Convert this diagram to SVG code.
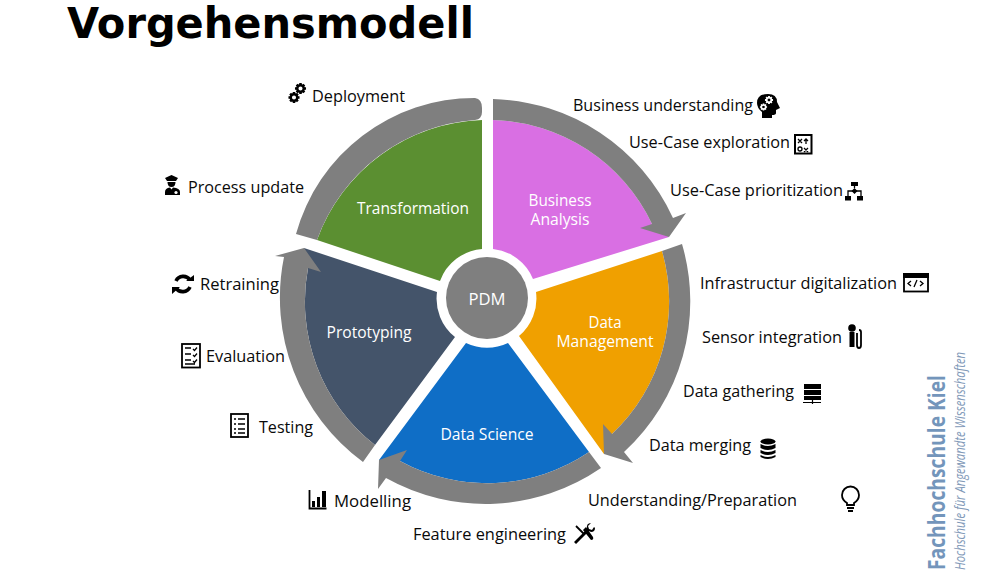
<svg xmlns="http://www.w3.org/2000/svg" width="1000" height="575" viewBox="0 0 1000 575">
<style>
.lbl{font-family:"Open Sans","Noto Sans",sans-serif;font-size:17px;fill:#0a0a0a}
.wl{font-family:"Open Sans","Noto Sans",sans-serif;font-size:16px;fill:#fff;text-anchor:middle}
.band{fill:#7f7f7f}
.o{fill:none;stroke:#000}
.k{fill:#000}
.w{fill:#fff}
</style>
<defs>
<path id="gear-teeth" d="M-1.500-6.500H1.500V-3H-1.500ZM-1.500 3H1.500V6.500H-1.500ZM-6.500-1.500H-3V1.500H-6.500ZM3-1.500H6.500V1.500H3ZM-5.600-3.500L-3.500-5.600-1.500-3.500-3.500-1.500ZM3.500 5.600L5.600 3.500 3.500 1.500 1.500 3.500ZM3.500-5.600L5.600-3.500 3.500-1.500 1.500-3.500ZM-5.600 3.500L-3.500 5.600-1.500 3.500-3.500 1.500Z"/>
<g id="gear"><use href="#gear-teeth"/><circle r="3.800" fill="none" stroke="#000" stroke-width="2.800"/></g>
<g id="gear-w" fill="#fff"><use href="#gear-teeth"/><circle r="3.800" fill="none" stroke="#fff" stroke-width="2.800"/></g>
</defs>
<rect width="1000" height="575" fill="#fff"/>
<text id="title" x="67" y="38" font-family="'DejaVu Sans',sans-serif" font-weight="700" font-size="42" fill="#000" textLength="407" lengthAdjust="spacingAndGlyphs">Vorgehensmodell</text>

<g id="business-analysis">
<path fill="#d96fe3" d="M493 120A182 182 0 0 1 652 224L669 237L533 279A49 49 0 0 0 493 249Z"/>
<text class="wl" x="560" y="206" textLength="63" lengthAdjust="spacingAndGlyphs">Business</text><text class="wl" x="560" y="225" textLength="59" lengthAdjust="spacingAndGlyphs">Analysis</text>
</g>
<g id="data-management">
<path fill="#f0a000" d="M536 292L662 251A182 182 0 0 1 612 434L604 454L519 336A49 49 0 0 0 536 292Z"/>
<text class="wl" x="605" y="328" textLength="33" lengthAdjust="spacingAndGlyphs">Data</text><text class="wl" x="605" y="347" textLength="97" lengthAdjust="spacingAndGlyphs">Management</text>
</g>
<g id="data-science">
<path fill="#0f6ec6" d="M508 343L589 452A182 182 0 0 1 400 461L379 460L466 343A49 49 0 0 0 508 343Z"/>
<text class="wl" x="487" y="440" textLength="93" lengthAdjust="spacingAndGlyphs">Data Science</text>
</g>
<g id="prototyping">
<path fill="#44546a" d="M455 337L375 445A182 182 0 0 1 308 268L304 248L437 292A49 49 0 0 0 455 337Z"/>
<text class="wl" x="369" y="338" textLength="85" lengthAdjust="spacingAndGlyphs">Prototyping</text>
</g>
<g id="transformation">
<path fill="#5b8f31" d="M317 240L440 281A49 49 0 0 1 482 249L482 120A182 182 0 0 0 317 240Z"/>
<text class="wl" x="413" y="214" textLength="112" lengthAdjust="spacingAndGlyphs">Transformation</text>
</g>
<g id="pdm">
<circle cx="487" cy="298" r="41" fill="#7f7f7f"/>
<text class="wl" x="487" y="305" textLength="37" lengthAdjust="spacingAndGlyphs">PDM</text>
</g>

<g id="connectors">
<path class="band" d="M493 99A204 204 0 0 1 673 218L686 213L669 237L640 228L652 224A182 182 0 0 0 493 120Z"/>
<path class="band" d="M682 244A204 204 0 0 1 624 452L633 463L604 454L603 424L612 434A182 182 0 0 0 662 251Z"/>
<path class="band" d="M601 468A204 204 0 0 1 386 478L378 489L379 460L407 450L400 461A182 182 0 0 0 589 452Z"/>
<path class="band" d="M363 462A204 204 0 0 1 284 257L275 256L304 248L321 272L308 268A182 182 0 0 0 375 445Z"/>
<path class="band" d="M296 234A185 185 0 0 1 475 98Q482 99 482 108L482 112Q482 119 475 120A182 182 0 0 0 317 240Z"/>
</g>

<g id="labels">
<text class="lbl" x="312" y="102" textLength="93" lengthAdjust="spacingAndGlyphs">Deployment</text>
<text class="lbl" x="573" y="111" textLength="180" lengthAdjust="spacingAndGlyphs">Business understanding</text>
<text class="lbl" x="629" y="148" textLength="161" lengthAdjust="spacingAndGlyphs">Use-Case exploration</text>
<text class="lbl" x="670" y="196" textLength="173" lengthAdjust="spacingAndGlyphs">Use-Case prioritization</text>
<text class="lbl" x="700" y="289" textLength="197" lengthAdjust="spacingAndGlyphs">Infrastructur digitalization</text>
<text class="lbl" x="702" y="343" textLength="140" lengthAdjust="spacingAndGlyphs">Sensor integration</text>
<text class="lbl" x="683" y="397" textLength="111" lengthAdjust="spacingAndGlyphs">Data gathering</text>
<text class="lbl" x="649" y="451" textLength="102" lengthAdjust="spacingAndGlyphs">Data merging</text>
<text class="lbl" x="588" y="506" textLength="209" lengthAdjust="spacingAndGlyphs">Understanding/Preparation</text>
<text class="lbl" x="413" y="540" textLength="153" lengthAdjust="spacingAndGlyphs">Feature engineering</text>
<text class="lbl" x="334" y="507" textLength="77" lengthAdjust="spacingAndGlyphs">Modelling</text>
<text class="lbl" x="259" y="433" textLength="54" lengthAdjust="spacingAndGlyphs">Testing</text>
<text class="lbl" x="206" y="362" textLength="79" lengthAdjust="spacingAndGlyphs">Evaluation</text>
<text class="lbl" x="200" y="290" textLength="79" lengthAdjust="spacingAndGlyphs">Retraining</text>
<text class="lbl" x="188" y="193" textLength="116" lengthAdjust="spacingAndGlyphs">Process update</text>
</g>

<g stroke-width="1.800">
<g id="icon-head"><path class="k" d="M762 118V112Q757 108 757 103Q757 94 768 94Q777 94 777 102L780 108L776 110V113Q776 115 772 115V118Z"/><use href="#gear-w" transform="translate(769 100) scale(.62)"/><use href="#gear-w" transform="translate(763.500 107) scale(.55)"/></g>
<g id="icon-map"><rect x="795" y="135" width="16.500" height="18.500" class="o" stroke-width="2"/><path class="o" stroke-width="1.300" d="M798 139l4 4m0-4l-4 4M804 148l4 4m0-4l-4 4M806 144v-5m-2 2l2-2 2 2"/><circle cx="800" cy="149" r="2" class="o" stroke-width="1.300"/></g>
<g id="icon-flow"><path class="k" d="M851 182h7v4h-7ZM845 196h6v4.500h-6ZM857 196h6v4.500h-6ZM854.500 188l3 3-3 3-3-3Z"/><path class="o" stroke-width="1.300" d="M854.500 186v2M848 196v-5h13v5"/></g>
<g id="icon-code"><rect x="904" y="274" width="24" height="17.500" class="o"/><path class="k" d="M903 273h26v5h-26Z"/><path class="o" stroke-width="1.300" d="M911 281l-3 2.500 3 2.500M920 281l3 2.500-3 2.500M917 280l-3 7"/></g>
<g id="icon-mic"><circle cx="852" cy="328" r="3.800" class="k"/><path class="k" d="M849.500 332h5v15h-5Z"/><path class="o" d="M857 333v12q0 3 2 3t2-3v-13q0-2-2-2"/></g>
<g id="icon-server"><path class="k" d="M804 384h17v5h-17ZM804 390h17v5h-17ZM804 396h17v4h-17Z"/><path class="o" stroke-width="1.200" d="M812.500 400v4M803 402.500h18"/></g>
<g id="icon-db"><ellipse cx="768" cy="441.500" rx="7.500" ry="3" class="k"/><path class="k" d="M760.500 444q7.500 4 15 0v4q-7.500 4-15 0ZM760.500 450q7.500 4 15 0v3q-7.500 4-15 0ZM760.500 455q7.500 4 15 0v2q-7.500 4-15 0Z"/></g>
<g id="icon-bulb"><path class="o" d="M847 505v-2q-5-3-5-8a8.500 8.500 0 0 1 17 0q0 5-5 8v2Z"/><path class="o" d="M847 508h7M848 511h5"/></g>
<g id="icon-tools"><path class="o" stroke-width="1.800" d="M576 526l8 8"/><path class="k" d="M583 532l3-3 7 10q1 3-2 3ZM591 525l-3 3 1 3 3 1 2-3 1 1q0 4-4 4l-2-1-13 13-2-2 13-13q-1-6 4-6Z" transform="translate(0 -2)"/></g>
<g id="icon-chart"><path class="o" d="M309.500 490v18.500h17"/><path class="k" d="M312 501h3v6h-3ZM317 497h3v10h-3ZM322 491h4v16h-4Z"/></g>
<g id="icon-test"><rect x="231" y="414" width="17" height="23" class="o"/><path class="o" stroke-width="1.500" d="M234 419h2M238 419h7M234 424h2M238 424h7M234 429h2M238 429h7M234 433h2M238 433h7"/></g>
<g id="icon-eval"><rect x="182" y="344" width="18" height="23.500" class="o"/><path class="o" stroke-width="1.300" d="M185 348h6M193 349l1.500 1.500 2.500-3M185 354h6M193 355l1.500 1.500 2.500-3M185 360h6M193 361l1.500 1.500 2.500-3M185 364h10"/></g>
<g id="icon-refresh"><path fill="none" stroke="#000" stroke-width="3.600" d="M176 281a8 8 0 0 1 14-1M190 287a8 8 0 0 1-14 1"/><path class="k" d="M186 281h8v-6ZM180 287h-8v7Z"/></g>
<g id="icon-police"><path class="k" d="M165 178L171.500 175 178 178 176 181H167ZM167.500 182h8q0 5-4 5t-4-5ZM165 195v-3q0-4 5-4.500l1.500 2 1.500-2q7 .5 7 4.500v3Z"/><circle cx="176" cy="192.500" r="1.600" class="w"/></g>
<g id="icon-gears"><use href="#gear" transform="translate(300.500 88.500) scale(.85)"/><use href="#gear" transform="translate(294 97.500) scale(.85)"/></g>
</g>

<g id="logo">
<text transform="translate(945 570) rotate(-90)" font-family="'Open Sans','Noto Sans',sans-serif" font-weight="700" font-size="23" fill="#7395bb" textLength="195" lengthAdjust="spacingAndGlyphs">Fachhochschule Kiel</text>
<text transform="translate(965 570) rotate(-90)" font-family="'Open Sans','Noto Sans',sans-serif" font-style="italic" font-size="14" fill="#8199b8" textLength="218" lengthAdjust="spacingAndGlyphs">Hochschule für Angewandte Wissenschaften</text>
</g>
</svg>
